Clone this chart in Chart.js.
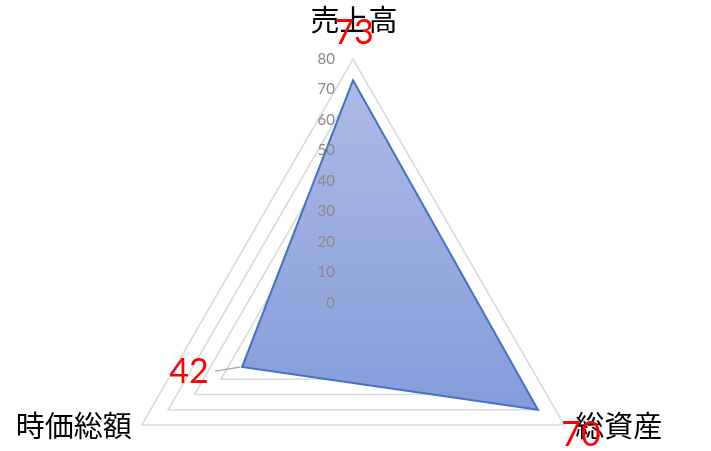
<!DOCTYPE html>
<html>
<head>
<meta charset="utf-8">
<script src="https://cdn.jsdelivr.net/npm/chart.js@4"></script>
<style>
  html, body { margin: 0; padding: 0; background: #fff; overflow: hidden; }
  #wrap { width: 711px; height: 620px; position: relative; }
</style>
</head>
<body>
<div id="wrap"><canvas id="myChart"></canvas></div>
<script>
// data
var labels = ['売上高', '総資産', '時価総額'];
var values = [73, 70, 42];
var tickValues = [0, 10, 20, 30, 40, 50, 60, 70, 80];

// category names round the outside
var pointLabelPlugin = {
    id: 'pointLabelText',
    afterDraw: function (chart) {
        var scale = chart.scales.r;
        var ctx = chart.ctx;
        ctx.save();
        ctx.fillStyle = '#000';
        ctx.font = '29px "Noto Sans CJK JP"';
        ctx.textBaseline = 'middle';
        labels.forEach(function (name, i) {
            var p = scale.getPointPosition(i, scale.drawingArea);
            if (i === 0) {
                ctx.textAlign = 'center';
                ctx.fillText(name, p.x + 1, p.y - 39);
            } else if (p.x > scale.xCenter) {
                ctx.textAlign = 'left';
                ctx.fillText(name, p.x + 11, p.y + 1);
            } else {
                ctx.textAlign = 'right';
                ctx.fillText(name, p.x - 10, p.y + 1);
            }
        });
        ctx.restore();
    }
};

// gray axis numbers, drawn over the fill
var tickTextPlugin = {
    id: 'tickText',
    afterDatasetsDraw: function (chart) {
        var scale = chart.scales.r;
        var ctx = chart.ctx;
        ctx.save();
        ctx.fillStyle = '#898989';
        ctx.font = '15px Lato';
        ctx.textAlign = 'right';
        ctx.textBaseline = 'middle';
        tickValues.forEach(function (v) {
            var y = scale.yCenter - scale.getDistanceFromCenterForValue(v);
            ctx.fillText(String(v), scale.xCenter - 18, y);
        });
        ctx.restore();
    }
};

// red value labels
var valueLabelPlugin = {
    id: 'valueText',
    afterDraw: function (chart) {
        var meta = chart.getDatasetMeta(0);
        var ctx = chart.ctx;
        var offs = [[1, -47], [43, 25], [-53, 5]];
        ctx.save();
        ctx.font = '34px Lato';
        ctx.fillStyle = '#ff0000';
        ctx.textAlign = 'center';
        ctx.textBaseline = 'middle';
        meta.data.forEach(function (pt, i) {
            var lx = pt.x + offs[i][0];
            var ly = pt.y + offs[i][1];
            if (i === 2) {
                ctx.strokeStyle = '#a6a6a6';
                ctx.lineWidth = 1.2;
                ctx.beginPath();
                ctx.moveTo(lx + 26, ly - 1);
                ctx.lineTo(pt.x - 2, pt.y);
                ctx.stroke();
            }
            ctx.fillText(String(values[i]), lx, ly);
        });
        ctx.restore();
    }
};

var ctx = document.getElementById('myChart').getContext('2d');
var myChart = new Chart(ctx, {
    type: 'radar',
    data: {
        labels: labels,
        datasets: [{
            data: values,
            borderColor: '#4472c4',
            borderWidth: 2,
            pointRadius: 0,
            fill: true,
            backgroundColor: function (context) {
                var chart = context.chart;
                var scale = chart.scales.r;
                if (!scale || !scale.drawingArea) return '#98aade';
                var top = scale.yCenter - scale.drawingArea;
                var bottom = scale.yCenter + scale.drawingArea / 2;
                var g = chart.ctx.createLinearGradient(0, top, 0, bottom);
                g.addColorStop(0, '#afbce6');
                g.addColorStop(1, '#839bda');
                return g;
            }
        }]
    },
    options: {
        responsive: true,
        maintainAspectRatio: false,
        animation: false,
        layout: { padding: { left: 109, right: 114, top: 59, bottom: 73 } },
        plugins: {
            legend: { display: false },
            tooltip: { enabled: false }
        },
        scales: {
            r: {
                min: 0,
                max: 80,
                ticks: { display: false, stepSize: 10 },
                grid: { color: '#d9d9d9', lineWidth: 1.5, circular: false },
                angleLines: { display: false },
                pointLabels: { display: false }
            }
        }
    },
    plugins: [tickTextPlugin, pointLabelPlugin, valueLabelPlugin]
});
</script>
</body>
</html>
